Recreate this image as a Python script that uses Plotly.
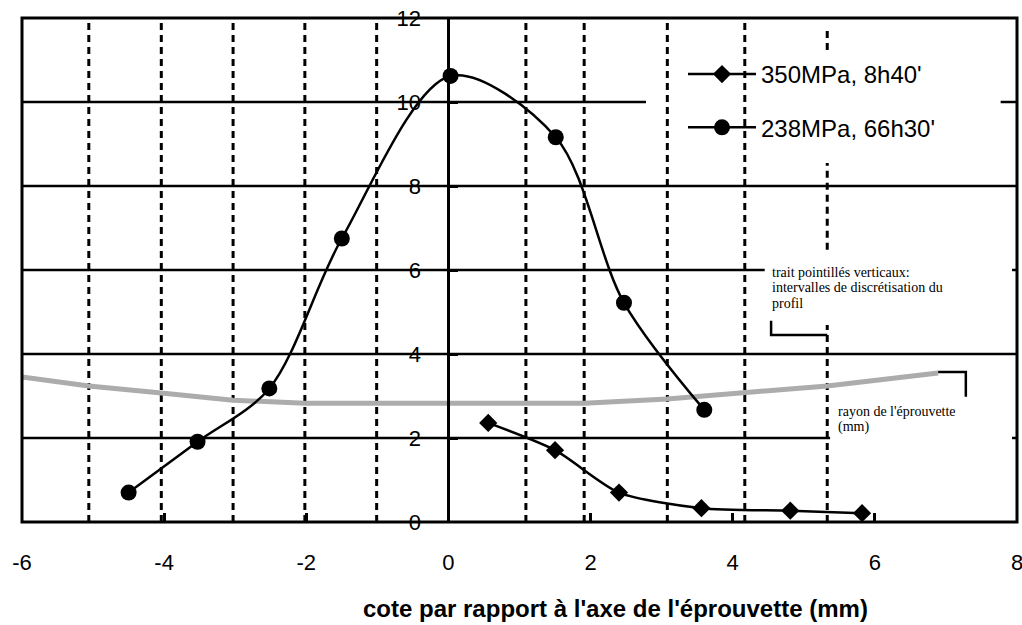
import plotly.graph_objects as go

# ---------------- data ----------------
x_238 = [-4.50, -3.53, -2.52, -1.50, 0.03, 1.51, 2.47, 3.60]
y_238 = [0.70, 1.91, 3.18, 6.75, 10.62, 9.16, 5.22, 2.67]

x_350 = [0.56, 1.50, 2.40, 3.56, 4.81, 5.82]
y_350 = [2.36, 1.71, 0.70, 0.33, 0.27, 0.21]

# specimen radius profile (grey band)
x_rayon = [-6.0, -5.06, -4.04, -3.03, -2.02, -1.01, 0.0, 1.09, 1.91, 3.08, 4.17, 5.33, 6.89]
y_rayon = [3.45, 3.24, 3.07, 2.90, 2.83, 2.83, 2.81, 2.83, 2.83, 2.93, 3.07, 3.24, 3.55]

# vertical dashed lines: discretisation intervals
x_discret = [-5.06, -4.04, -3.03, -2.02, -1.01, 1.09, 1.91, 3.08, 4.17]
x_discret_last = 5.33

x_tickvals = [-6, -4, -2, 0, 2, 4, 6, 8]
x_ticktext = ["-6", "-4", "-2", "0", "2", "4", "6", "8"]
y_tickvals = [0, 2, 4, 6, 8, 10, 12]
y_ticktext = ["0", "2", "4", "6", "8", "10", "12"]

name_350 = "350MPa, 8h40'"
name_238 = "238MPa, 66h30'"
x_title = "cote par rapport à l'axe de l'éprouvette (mm)"
note_trait = ["trait pointillés verticaux:", "intervalles de discrétisation du", "profil"]
note_rayon = ["rayon de l'éprouvette", "(mm)"]

# ---------------- figure ----------------
SANS = "Liberation Sans, Arial, sans-serif"
SERIF = "Liberation Serif, Times New Roman, serif"
fig = go.Figure()

fig.add_trace(go.Scatter(x=x_rayon, y=y_rayon, mode="lines",
                         line=dict(color="#acacac", width=5), showlegend=False,
                         hoverinfo="skip"))
fig.add_trace(go.Scatter(x=x_350, y=y_350, mode="lines+markers", name=name_350,
                         legendgroup="a",
                         line=dict(color="black", width=2.5, shape="spline", smoothing=0.7),
                         marker=dict(symbol="diamond", size=14, color="black")))
fig.add_trace(go.Scatter(x=x_238, y=y_238, mode="lines+markers", name=name_238,
                         legendgroup="b",
                         line=dict(color="black", width=2.5, shape="spline", smoothing=0.9),
                         marker=dict(symbol="circle", size=16, color="black")))

shapes = []
# horizontal grid segments
grid_segments = [(2, -6, 5.37), (2, 7.93, 8), (4, -6, 8), (6, -6, 4.45), (6, 7.93, 8),
                 (8, -6, 8), (10, -6, 2.78), (10, 7.77, 8)]
for yv, xa, xb in grid_segments:
    shapes.append(dict(type="line", xref="x", yref="y", x0=xa, x1=xb, y0=yv, y1=yv,
                       line=dict(color="black", width=2.5), layer="below"))
# vertical dashed lines
for xv in x_discret:
    shapes.append(dict(type="line", xref="x", yref="y", x0=xv, x1=xv, y0=0, y1=12,
                       line=dict(color="black", width=3, dash="7px,5px"), layer="below"))
for ya, yb in [(0, 4.69), (6.48, 8.55), (11.24, 11.79)]:
    shapes.append(dict(type="line", xref="x", yref="y", x0=x_discret_last, x1=x_discret_last,
                       y0=ya, y1=yb,
                       line=dict(color="black", width=3, dash="7px,5px"), layer="below"))
# brackets
shapes.append(dict(type="path", xref="x", yref="y",
                   path="M 4.54 4.79 L 4.54 4.45 L 5.33 4.45",
                   line=dict(color="black", width=2.5)))
shapes.append(dict(type="path", xref="x", yref="y",
                   path="M 6.89 3.57 L 7.28 3.57 L 7.28 2.98",
                   line=dict(color="black", width=2.5)))
# frame
shapes.append(dict(type="rect", xref="paper", yref="paper", x0=0, x1=1, y0=0, y1=1,
                   line=dict(color="black", width=3), layer="above"))

annotations = []
for i, t in enumerate(note_trait):
    annotations.append(dict(x=4.52, y=5.95 - i * 0.375, xref="x", yref="y", text=t,
                            showarrow=False, xanchor="left", yanchor="middle",
                            font=dict(family=SERIF, size=14, color="black")))
for i, t in enumerate(note_rayon):
    annotations.append(dict(x=5.46, y=2.62 - i * 0.36, xref="x", yref="y", text=t,
                            showarrow=False, xanchor="left", yanchor="middle",
                            font=dict(family=SERIF, size=14, color="black")))
annotations.append(dict(x=0.596, y=-0.1726, xref="paper", yref="paper", text="<b>" + x_title + "</b>",
                        showarrow=False, xanchor="center", yanchor="middle",
                        font=dict(family=SANS, size=24, color="black")))

fig.update_layout(
    template="none",
    width=1022, height=625, autosize=False,
    margin=dict(l=22, r=5, t=18, b=103),
    paper_bgcolor="white", plot_bgcolor="white",
    shapes=shapes, annotations=annotations,
    legend=dict(x=(683 - 22) / 995, y=(522 - 52) / 504, xanchor="left", yanchor="top",
                bgcolor="rgba(0,0,0,0)", borderwidth=0, traceorder="grouped",
                tracegroupgap=19, font=dict(family=SANS, size=24, color="black"),
                itemwidth=68),
    xaxis=dict(range=[-6, 8], tickvals=x_tickvals, ticktext=x_ticktext,
               ticks="inside", ticklen=9, tickwidth=2.5, tickcolor="black",
               showgrid=False, zeroline=False, showline=False, automargin=False,
               tickfont=dict(family=SANS, size=22, color="black"),
               ticklabelstandoff=25, ticklabeloverflow="allow"),
    yaxis=dict(range=[0, 12], tickvals=y_tickvals, ticktext=y_ticktext,
               ticks="inside", ticklen=8, tickwidth=2.5, tickcolor="black",
               showgrid=False, zeroline=False, showline=True, linewidth=3, linecolor="black",
               anchor="free", position=(448.4 - 22) / 995, automargin=False,
               tickfont=dict(family=SANS, size=22, color="black"),
               ticklabelstandoff=22),
)

fig.write_html("out.html", config={"displayModeBar": False},
               post_script="document.body.style.margin='0';document.body.style.overflow='hidden';")
